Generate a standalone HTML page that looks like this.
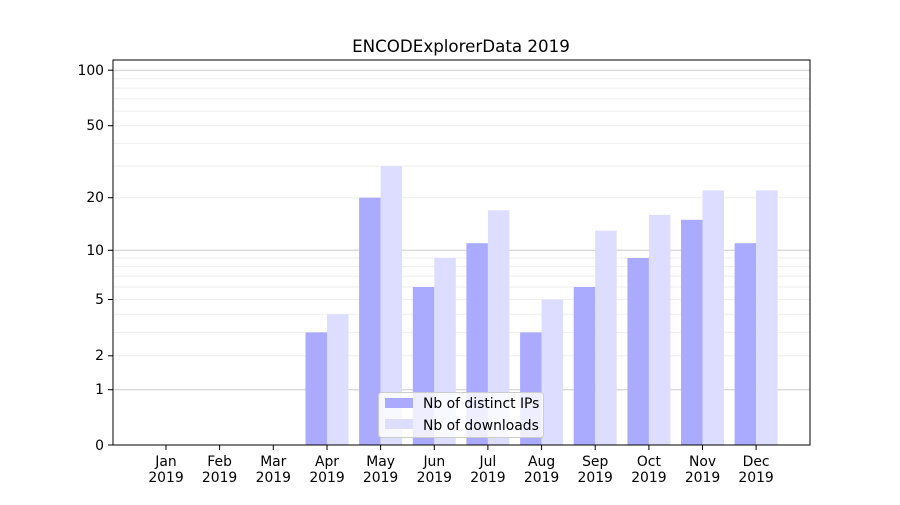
<!DOCTYPE html>
<html><head><meta charset="utf-8"><style>
body{margin:0;background:#fff}
text{font-family:"DejaVu Sans","Liberation Sans",sans-serif;font-size:13.9px;fill:#000}
</style></head><body>
<svg width="900" height="500" xmlns="http://www.w3.org/2000/svg">
<rect width="900" height="500" fill="#fff"/>
<text x="461" y="52" text-anchor="middle" style="font-size:16.7px">ENCODExplorerData 2019</text>
<g stroke="#eeeeee" stroke-width="1">
<line x1="113" x2="810" y1="355.8" y2="355.8"/><line x1="113" x2="810" y1="332.4" y2="332.4"/>
<line x1="113" x2="810" y1="314.3" y2="314.3"/><line x1="113" x2="810" y1="299.5" y2="299.5"/>
<line x1="113" x2="810" y1="287" y2="287"/><line x1="113" x2="810" y1="276.1" y2="276.1"/>
<line x1="113" x2="810" y1="266.6" y2="266.6"/><line x1="113" x2="810" y1="258" y2="258"/>
<line x1="113" x2="810" y1="197.7" y2="197.7"/><line x1="113" x2="810" y1="166.1" y2="166.1"/>
<line x1="113" x2="810" y1="143.4" y2="143.4"/><line x1="113" x2="810" y1="125.7" y2="125.7"/>
<line x1="113" x2="810" y1="111.1" y2="111.1"/><line x1="113" x2="810" y1="98.8" y2="98.8"/>
<line x1="113" x2="810" y1="88.1" y2="88.1"/><line x1="113" x2="810" y1="78.7" y2="78.7"/>
</g>
<g stroke="#cccccc" stroke-width="1">
<line x1="113" x2="810" y1="389.7" y2="389.7"/><line x1="113" x2="810" y1="250.3" y2="250.3"/>
<line x1="113" x2="810" y1="70.2" y2="70.2"/>
</g>
<g fill="#aaaaff">
<rect x="305.5" y="332.4" width="21.5" height="112.6"/>
<rect x="359.1" y="197.7" width="21.5" height="247.3"/>
<rect x="412.8" y="287" width="21.5" height="158"/>
<rect x="466.4" y="243.2" width="21.5" height="201.8"/>
<rect x="520.1" y="332.4" width="21.5" height="112.6"/>
<rect x="573.7" y="287" width="21.5" height="158"/>
<rect x="627.4" y="258" width="21.5" height="187"/>
<rect x="681" y="219.8" width="21.5" height="225.2"/>
<rect x="734.6" y="243.2" width="21.5" height="201.8"/>
</g>
<g fill="#ddddff">
<rect x="327" y="314.3" width="21.5" height="130.7"/>
<rect x="380.6" y="166.1" width="21.5" height="278.9"/>
<rect x="434.3" y="258" width="21.5" height="187"/>
<rect x="487.9" y="210.3" width="21.5" height="234.7"/>
<rect x="541.6" y="299.5" width="21.5" height="145.5"/>
<rect x="595.2" y="230.7" width="21.5" height="214.3"/>
<rect x="648.9" y="214.9" width="21.5" height="230.1"/>
<rect x="702.5" y="190.4" width="21.5" height="254.6"/>
<rect x="756.1" y="190.4" width="21.5" height="254.6"/>
</g>
<rect x="113" y="60" width="697" height="385" fill="none" stroke="#000" stroke-width="1"/>
<g stroke="#000">
<line x1="108" x2="113" y1="445" y2="445"/><line x1="108" x2="113" y1="389.7" y2="389.7"/>
<line x1="108" x2="113" y1="355.8" y2="355.8"/><line x1="108" x2="113" y1="299.5" y2="299.5"/>
<line x1="108" x2="113" y1="250.3" y2="250.3"/><line x1="108" x2="113" y1="197.7" y2="197.7"/>
<line x1="108" x2="113" y1="125.7" y2="125.7"/><line x1="108" x2="113" y1="70.2" y2="70.2"/>
</g>
<g text-anchor="end">
<text x="104" y="450">0</text><text x="104" y="394">1</text><text x="104" y="360">2</text>
<text x="104" y="304">5</text><text x="104" y="255">10</text><text x="104" y="202">20</text>
<text x="104" y="130">50</text><text x="104" y="75">100</text>
</g>
<g stroke="#000">
<line x1="166" x2="166" y1="445" y2="450"/><line x1="219.6" x2="219.6" y1="445" y2="450"/>
<line x1="273.3" x2="273.3" y1="445" y2="450"/><line x1="327" x2="327" y1="445" y2="450"/>
<line x1="380.6" x2="380.6" y1="445" y2="450"/><line x1="434.3" x2="434.3" y1="445" y2="450"/>
<line x1="487.9" x2="487.9" y1="445" y2="450"/><line x1="541.6" x2="541.6" y1="445" y2="450"/>
<line x1="595.2" x2="595.2" y1="445" y2="450"/><line x1="648.9" x2="648.9" y1="445" y2="450"/>
<line x1="702.5" x2="702.5" y1="445" y2="450"/><line x1="756.1" x2="756.1" y1="445" y2="450"/>
</g>
<g text-anchor="middle">
<text x="166" y="466">Jan</text><text x="166" y="482">2019</text>
<text x="219.6" y="466">Feb</text><text x="219.6" y="482">2019</text>
<text x="273.3" y="466">Mar</text><text x="273.3" y="482">2019</text>
<text x="327" y="466">Apr</text><text x="327" y="482">2019</text>
<text x="380.6" y="466">May</text><text x="380.6" y="482">2019</text>
<text x="434.3" y="466">Jun</text><text x="434.3" y="482">2019</text>
<text x="487.9" y="466">Jul</text><text x="487.9" y="482">2019</text>
<text x="541.6" y="466">Aug</text><text x="541.6" y="482">2019</text>
<text x="595.2" y="466">Sep</text><text x="595.2" y="482">2019</text>
<text x="648.9" y="466">Oct</text><text x="648.9" y="482">2019</text>
<text x="702.5" y="466">Nov</text><text x="702.5" y="482">2019</text>
<text x="756.1" y="466">Dec</text><text x="756.1" y="482">2019</text>
</g>
<rect x="378.5" y="392.5" width="165" height="45" rx="3" fill="#fff" fill-opacity="0.8" stroke="#cccccc"/>
<rect x="385" y="398" width="28" height="10" fill="#aaaaff"/>
<rect x="385" y="419" width="28" height="10" fill="#ddddff"/>
<text x="423" y="408">Nb of distinct IPs</text>
<text x="423" y="430">Nb of downloads</text>
</svg>
</body></html>
